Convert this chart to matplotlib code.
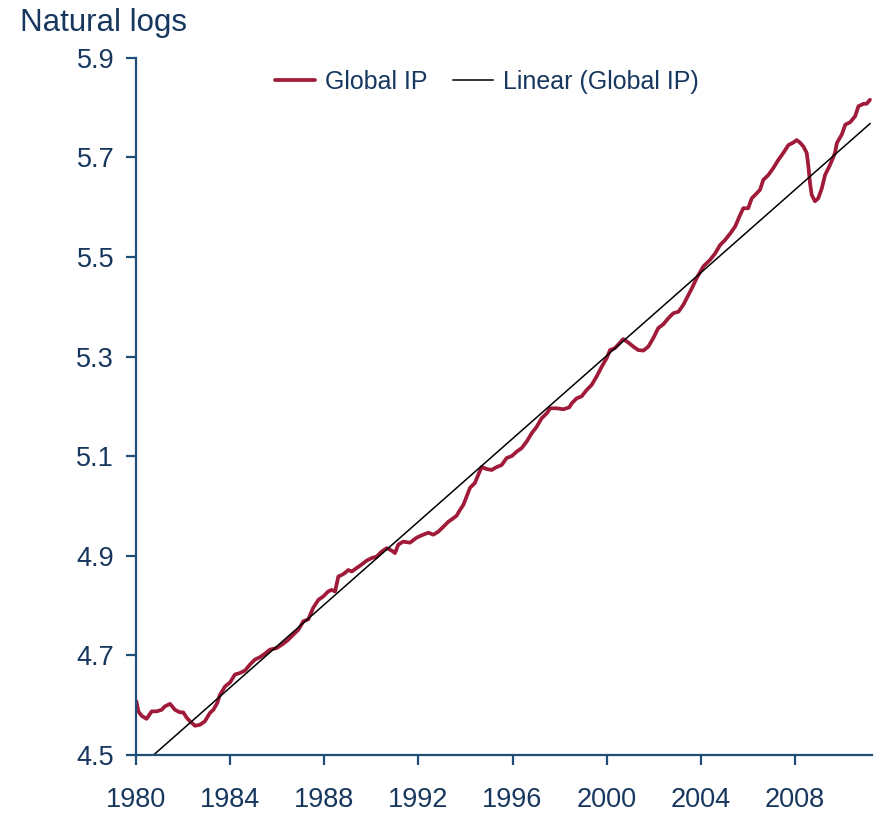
import matplotlib
matplotlib.use("Agg")
import matplotlib.pyplot as plt
import numpy as np

plt.rcParams['font.family'] = ['Liberation Sans', 'DejaVu Sans']

# Global IP (natural logs)
years = [1980.00, 1980.08, 1980.22, 1980.43, 1980.65, 1980.86, 1981.07, 1981.21, 1981.43,
         1981.64, 1981.85, 1981.99, 1982.14, 1982.28, 1982.49, 1982.70, 1982.91, 1983.13,
         1983.27, 1983.44, 1983.55, 1983.77, 1983.98, 1984.19, 1984.40, 1984.62, 1984.83,
         1985.04, 1985.26, 1985.47, 1985.68, 1985.96, 1986.25, 1986.46, 1986.67, 1986.89,
         1987.10, 1987.31, 1987.52, 1987.74, 1987.95, 1988.16, 1988.30, 1988.45, 1988.59,
         1988.73, 1988.87, 1989.01, 1989.16, 1989.37, 1989.58, 1989.80, 1990.01, 1990.22,
         1990.43, 1990.65, 1990.86, 1991.00, 1991.14, 1991.35, 1991.64, 1991.92, 1992.20,
         1992.42, 1992.63, 1992.84, 1993.06, 1993.27, 1993.48, 1993.62, 1993.77, 1993.91,
         1994.05, 1994.19, 1994.40, 1994.54, 1994.69, 1994.90, 1995.11, 1995.33, 1995.54,
         1995.75, 1995.97, 1996.18, 1996.39, 1996.60, 1996.82, 1997.03, 1997.24, 1997.46,
         1997.60, 1997.88, 1998.16, 1998.42, 1998.52, 1998.73, 1998.94, 1999.16, 1999.37,
         1999.58, 1999.80, 2000.01, 2000.15, 2000.36, 2000.57, 2000.71, 2000.93, 2001.14,
         2001.35, 2001.57, 2001.78, 2001.99, 2002.20, 2002.42, 2002.63, 2002.84, 2003.06,
         2003.27, 2003.41, 2003.63, 2003.84, 2004.12, 2004.40, 2004.62, 2004.83, 2005.04,
         2005.26, 2005.47, 2005.68, 2005.82, 2006.03, 2006.18, 2006.39, 2006.53, 2006.67,
         2006.89, 2007.10, 2007.31, 2007.52, 2007.74, 2007.95, 2008.09, 2008.23, 2008.38,
         2008.52, 2008.59, 2008.66, 2008.73, 2008.87, 2009.01, 2009.16, 2009.30, 2009.51,
         2009.72, 2009.80, 2010.01, 2010.16, 2010.37, 2010.58, 2010.72, 2010.94, 2011.07,
         2011.21]
global_ip = [4.607, 4.587, 4.578, 4.572, 4.587, 4.587, 4.590, 4.597, 4.602,
             4.590, 4.585, 4.585, 4.574, 4.567, 4.558, 4.560, 4.567, 4.584,
             4.590, 4.604, 4.620, 4.637, 4.645, 4.661, 4.664, 4.669, 4.681,
             4.691, 4.696, 4.703, 4.711, 4.714, 4.723, 4.731, 4.741, 4.751,
             4.768, 4.772, 4.795, 4.811, 4.818, 4.828, 4.831, 4.828, 4.858,
             4.861, 4.865, 4.871, 4.868, 4.875, 4.882, 4.890, 4.895, 4.898,
             4.908, 4.915, 4.910, 4.905, 4.922, 4.928, 4.926, 4.936, 4.942,
             4.946, 4.942, 4.948, 4.958, 4.968, 4.975, 4.980, 4.992, 5.002,
             5.019, 5.036, 5.046, 5.062, 5.078, 5.074, 5.072, 5.078, 5.082,
             5.096, 5.100, 5.109, 5.116, 5.129, 5.146, 5.159, 5.176, 5.186,
             5.196, 5.196, 5.194, 5.198, 5.206, 5.216, 5.220, 5.233, 5.243,
             5.260, 5.280, 5.297, 5.313, 5.317, 5.328, 5.335, 5.328, 5.320,
             5.313, 5.312, 5.320, 5.337, 5.357, 5.365, 5.377, 5.387, 5.390,
             5.404, 5.417, 5.437, 5.458, 5.481, 5.494, 5.507, 5.524, 5.534,
             5.547, 5.561, 5.584, 5.598, 5.598, 5.618, 5.628, 5.635, 5.655,
             5.665, 5.679, 5.695, 5.709, 5.725, 5.730, 5.735, 5.730, 5.722,
             5.709, 5.682, 5.648, 5.625, 5.612, 5.618, 5.638, 5.665, 5.685,
             5.709, 5.729, 5.746, 5.766, 5.771, 5.783, 5.803, 5.808, 5.808,
             5.816]

# Linear trend (Global IP), end points
trend_years = [1980.0, 2011.21]
trend_vals = [4.469, 5.768]

xticks = [1980, 1984, 1988, 1992, 1996, 2000, 2004, 2008]
yticks = [4.5, 4.7, 4.9, 5.1, 5.3, 5.5, 5.7, 5.9]

navy = '#17375E'
axis_col = '#1F4E79'
red = '#A01A3A'

fig = plt.figure(figsize=(8.77, 8.13), dpi=100)
ax = fig.add_axes([0.1556, 0.0718, 0.8388, 0.8569])

ax.plot(years, global_ip, color=red, lw=2.7, label='Global IP',
        solid_joinstyle='round', solid_capstyle='round')
ax.plot(trend_years, trend_vals, color='black', lw=1.1, label='Linear (Global IP)')

ax.set_xlim(1980, 2011.3)
ax.set_ylim(4.5, 5.9)
ax.set_xticks(xticks)
ax.set_xticklabels([str(t) for t in xticks])
ax.set_yticks(yticks)
ax.set_yticklabels([f'{t:.1f}' for t in yticks])

for s in ['top', 'right']:
    ax.spines[s].set_visible(False)
for s in ['left', 'bottom']:
    ax.spines[s].set_color(axis_col)
    ax.spines[s].set_linewidth(1.6)

ax.tick_params(axis='both', colors=axis_col, labelcolor=navy, labelsize=19.5,
               length=7, width=1.6, direction='out')
ax.tick_params(axis='y', pad=9)
ax.tick_params(axis='x', pad=16)

fig.text(0.023, 1 - 31 / 813, 'Natural logs', fontsize=22.5, color=navy,
         ha='left', va='baseline')

leg = fig.legend(loc='center', bbox_to_anchor=(0.555, 0.899), ncol=2, frameon=False,
                 fontsize=18, handlelength=1.6, handletextpad=0.4, columnspacing=1.0,
                 labelcolor=navy)

fig.savefig('out.png', dpi=100)
